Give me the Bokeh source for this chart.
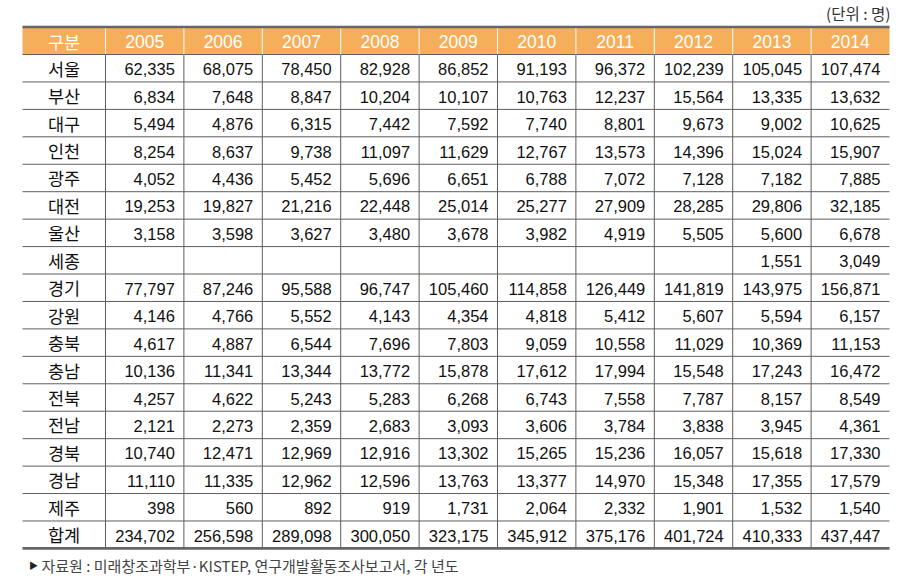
from bokeh.plotting import figure
from bokeh.models import ColumnDataSource
from bokeh.core.properties import value
from bokeh.embed import file_html
from bokeh.resources import INLINE

regions = ["서울", "부산", "대구", "인천", "광주", "대전", "울산", "세종", "경기",
           "강원", "충북", "충남", "전북", "전남", "경북", "경남", "제주", "합계"]
years = ["2005", "2006", "2007", "2008", "2009", "2010", "2011", "2012", "2013", "2014"]

v2005 = [62335, 6834, 5494, 8254, 4052, 19253, 3158, None, 77797, 4146, 4617, 10136, 4257, 2121, 10740, 11110, 398, 234702]
v2006 = [68075, 7648, 4876, 8637, 4436, 19827, 3598, None, 87246, 4766, 4887, 11341, 4622, 2273, 12471, 11335, 560, 256598]
v2007 = [78450, 8847, 6315, 9738, 5452, 21216, 3627, None, 95588, 5552, 6544, 13344, 5243, 2359, 12969, 12962, 892, 289098]
v2008 = [82928, 10204, 7442, 11097, 5696, 22448, 3480, None, 96747, 4143, 7696, 13772, 5283, 2683, 12916, 12596, 919, 300050]
v2009 = [86852, 10107, 7592, 11629, 6651, 25014, 3678, None, 105460, 4354, 7803, 15878, 6268, 3093, 13302, 13763, 1731, 323175]
v2010 = [91193, 10763, 7740, 12767, 6788, 25277, 3982, None, 114858, 4818, 9059, 17612, 6743, 3606, 15265, 13377, 2064, 345912]
v2011 = [96372, 12237, 8801, 13573, 7072, 27909, 4919, None, 126449, 5412, 10558, 17994, 7558, 3784, 15236, 14970, 2332, 375176]
v2012 = [102239, 15564, 9673, 14396, 7128, 28285, 5505, None, 141819, 5607, 11029, 15548, 7787, 3838, 16057, 15348, 1901, 401724]
v2013 = [105045, 13335, 9002, 15024, 7182, 29806, 5600, 1551, 143975, 5594, 10369, 17243, 8157, 3945, 15618, 17355, 1532, 410333]
v2014 = [107474, 13632, 10625, 15907, 7885, 32185, 6678, 3049, 156871, 6157, 11153, 16472, 8549, 4361, 17330, 17579, 1540, 437447]
columns = [v2005, v2006, v2007, v2008, v2009, v2010, v2011, v2012, v2013, v2014]

header_label = "구분"
unit_label = "(단위 : 명)"
source_mark = "▶"
source_label = "자료원 : 미래창조과학부·KISTEP, 연구개발활동조사보고서, 각 년도"

# layout (pixel coordinates in the page)
X0, X1 = 22, 105
CW = 78.4
TOP, HDR = 26.5, 54
RH = 27.44
edges = [X0, X1] + [X1 + CW * (k + 1) for k in range(len(years))]
XR = edges[-1]
row_tops = [HDR + RH * i for i in range(len(regions))]
BOTTOM = HDR + RH * len(regions)

W, H = 913, 579
p = figure(width=W, height=H, x_range=(0, W), y_range=(H, 0),
           output_backend="svg", toolbar_location=None, min_border=0)
p.axis.visible = False
p.grid.visible = False
p.outline_line_color = None
p.background_fill_color = "white"

KR = "Noto Sans CJK KR"
NUM = "Liberation Sans"
LINE = "#5e5e5e"

# header background
p.quad(left=[X0], right=[XR], top=[TOP], bottom=[HDR], fill_color="#F5AE5A", line_color=None)

# horizontal lines
hy = row_tops[1:]
p.segment(x0=[X0] * len(hy), x1=[XR] * len(hy), y0=hy, y1=hy, line_color=LINE, line_width=1)
p.segment(x0=[X0], x1=[XR], y0=[HDR], y1=[HDR], line_color=LINE, line_width=1)
p.segment(x0=[X0, X0], x1=[XR, XR], y0=[TOP, BOTTOM], y1=[TOP, BOTTOM], line_color="#666666", line_width=2.7)

# vertical lines
inner = edges[1:-1]
p.segment(x0=inner, x1=inner, y0=[TOP + 1.5] * len(inner), y1=[HDR] * len(inner), line_color="white", line_width=1)
p.segment(x0=inner, x1=inner, y0=[HDR] * len(inner), y1=[BOTTOM - 1] * len(inner), line_color=LINE, line_width=1)

# header texts
hx = [(edges[k] + edges[k + 1]) / 2 for k in range(1, len(edges) - 1)]
hyc = (TOP + HDR) / 2 + 1
p.text(x=[(X0 + X1) / 2], y=[hyc], text=[header_label], text_color="white",
       text_font=value(KR), text_font_size="17.5px", text_align="center", text_baseline="middle")
p.text(x=hx, y=[hyc] * len(hx), text=years, text_color="white",
       text_font=value(NUM), text_font_size="17.5px", text_align="center", text_baseline="middle")

# region labels
ry = [t + RH / 2 for t in row_tops]
p.text(x=[(X0 + X1) / 2] * len(regions), y=ry, text=regions, text_color="#111111",
       text_font=value(KR), text_font_size="17.5px", text_align="center", text_baseline="middle")

# values
xs, ys, ts = [], [], []
for k, col in enumerate(columns):
    for i, v in enumerate(col):
        if v is None:
            continue
        xs.append(edges[k + 2] - 9)
        ys.append(ry[i] + 1)
        ts.append(f"{v:,}")
src = ColumnDataSource(dict(x=xs, y=ys, t=ts))
p.text(x="x", y="y", text="t", source=src, text_color="#111111",
       text_font=value(NUM), text_font_size="16.5px", text_align="right", text_baseline="middle")

# unit & source notes
p.text(x=[XR + 1], y=[12], text=[unit_label], text_color="#333333", text_font=value(KR),
       text_font_size="15.5px", text_align="right", text_baseline="middle")
p.text(x=[33], y=[565], text=[source_mark], text_color="#222222", text_font=value(KR),
       text_font_size="9px", text_align="center", text_baseline="middle")
p.text(x=[41], y=[564.5], text=[source_label], text_color="#444444", text_font=value(KR),
       text_font_size="15px", text_align="left", text_baseline="middle")

open("out.html", "w").write(file_html(p, INLINE))
